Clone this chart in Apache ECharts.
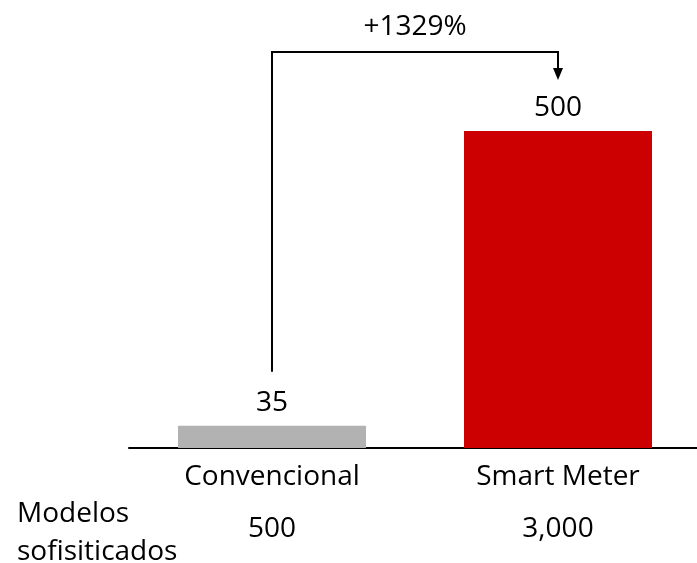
<!DOCTYPE html>
<html>
<head>
<meta charset="utf-8">
<script src="https://cdn.jsdelivr.net/npm/echarts@6/dist/echarts.min.js"></script>
<style>html,body{margin:0;padding:0;background:#fff}#c{width:697px;height:563px}</style>
</head>
<body>
<div id="c"></div>
<script>
var categories = ['Convencional', 'Smart Meter'];
var values = [35, 500];
var barColors = ['#b2b2b2', '#cc0000'];
var sophisticatedModels = ['500', '3,000'];
var rowTitle = 'Modelos\nsofisiticados';
var changeLabel = '+1329%';

var FONT = '"Open Sans", Lato, sans-serif';
var FS = 28;
var chart = echarts.init(document.getElementById('c'));

var option = {
  animation: false,
  grid: { left: 129, width: 572, top: 131, height: 317, containLabel: false, outerBoundsMode: 'none' },
  xAxis: {
    type: 'category',
    data: categories,
    axisLine: { show: true, lineStyle: { color: '#000', width: 2 } },
    axisTick: { show: false },
    axisLabel: {
      margin: 27,
      interval: 0,
      formatter: function (v, i) { return '{a|' + v + '}\n{b|' + sophisticatedModels[i] + '}'; },
      rich: {
        a: { fontFamily: FONT, fontSize: FS, color: '#000', lineHeight: 36, padding: [0,0,32,0] },
        b: { fontFamily: FONT, fontSize: FS, color: '#000', lineHeight: 36 }
      }
    }
  },
  yAxis: {
    type: 'value', min: 0, max: 500,
    show: false, splitLine: { show: false }
  },
  series: [{
    type: 'bar',
    barWidth: 188,
    data: values.map(function (v, i) { return { value: v, itemStyle: { color: barColors[i] } }; }),
    label: {
      show: true, position: 'top', distance: 9,
      fontFamily: FONT, fontSize: FS, color: '#000'
    }
  }]
};
chart.setOption(option);

function drawAnnotation() {
  var p0 = chart.convertToPixel({ gridIndex: 0 }, [0, values[0]]);
  var p1 = chart.convertToPixel({ gridIndex: 0 }, [1, values[1]]);
  var startY = p0[1] - 54;
  var topY = p1[1] - 79;
  var tipY = p1[1] - 51;
  var midX = (p0[0] + p1[0]) / 2;
  chart.setOption({
    graphic: [
      { type: 'polyline', shape: { points: [[p0[0], startY], [p0[0], topY], [p1[0], topY], [p1[0], tipY - 11]] },
        style: { stroke: '#000', lineWidth: 2, fill: null } },
      { type: 'polygon', shape: { points: [[p1[0] - 5, tipY - 12], [p1[0] + 5, tipY - 12], [p1[0], tipY]] },
        style: { fill: '#000' } },
      { type: 'text', x: midX, y: topY - 25, style: { text: changeLabel, fontFamily: FONT, fontSize: FS, fill: '#000', align: 'center', verticalAlign: 'middle' } },
      { type: 'text', x: 17, y: 533, style: { text: rowTitle, fontFamily: FONT, fontSize: FS, fill: '#000', align: 'left', verticalAlign: 'middle', lineHeight: 38 } }
    ]
  });
}
drawAnnotation();
</script>
</body>
</html>
